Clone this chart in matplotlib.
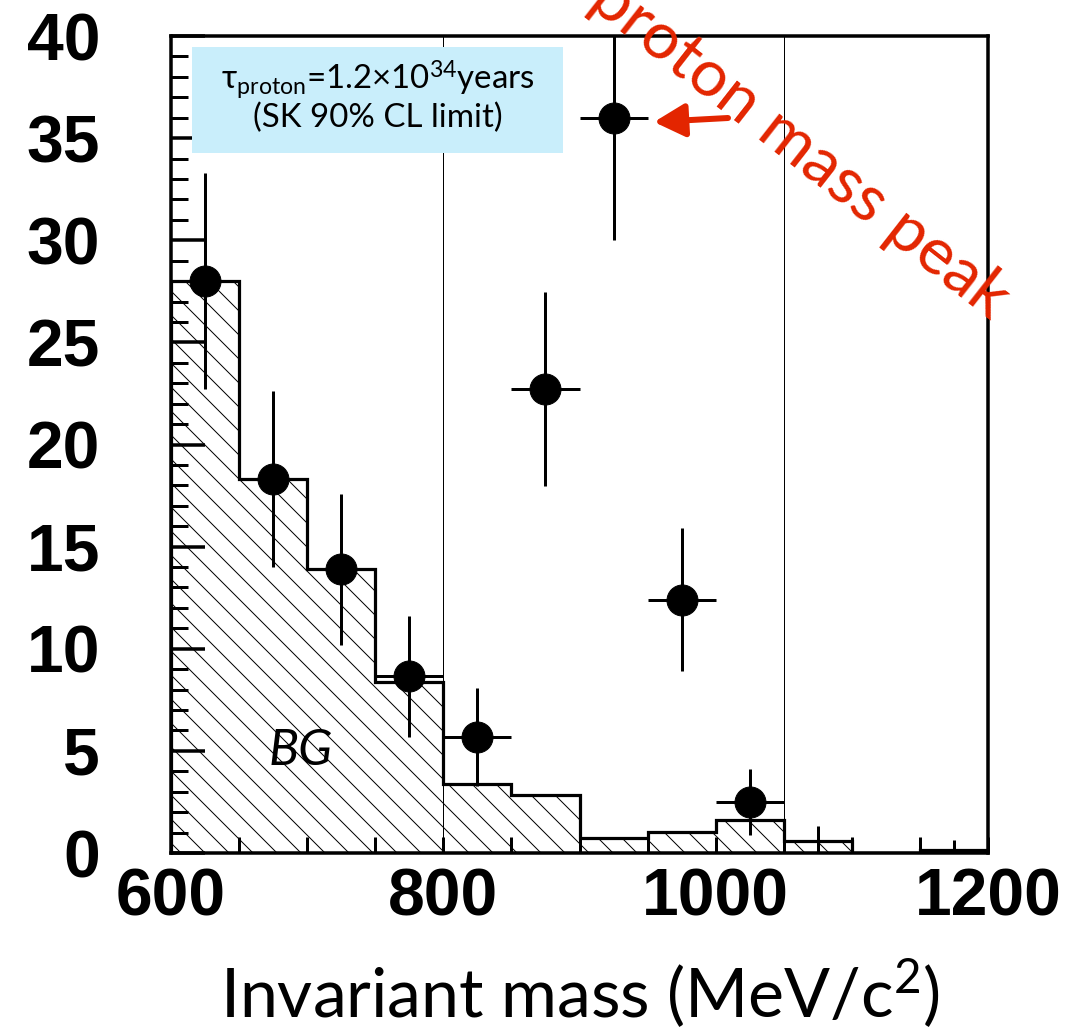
import numpy as np
import matplotlib
matplotlib.use("Agg")
import matplotlib.pyplot as plt
from matplotlib.patches import Rectangle, FancyArrowPatch

# ---- data -------------------------------------------------------------
bin_edges = [600, 650, 700, 750, 800, 850, 900, 950, 1000, 1050, 1100, 1150, 1200]
bg_counts = [28.0, 18.3, 13.9, 8.35, 3.4, 2.85, 0.72, 1.05, 1.62, 0.6, 0.0, 0.15]

data_x = [625, 675, 725, 775, 825, 875, 925, 975, 1025]
data_y = [28.0, 18.3, 13.9, 8.65, 5.7, 22.7, 36.0, 12.4, 2.5]
data_err = [5.3, 4.3, 3.7, 2.95, 2.4, 4.75, 6.0, 3.5, 1.6]
bin_half_width = 25

empty_x = [1075, 1175]
empty_upper = [1.3, 0.65]

x_ticks = [600, 800, 1000, 1200]
y_ticks = [0, 5, 10, 15, 20, 25, 30, 35, 40]
window_edges = [800, 1050]

# ---- figure -----------------------------------------------------------
DPI = 72
W, H = 1084, 1032
plt.rcParams["hatch.linewidth"] = 1.0
plt.rcParams["hatch.color"] = "black"
plt.rcParams["mathtext.fontset"] = "custom"
plt.rcParams["mathtext.rm"] = "Lato"
plt.rcParams["mathtext.it"] = "Lato:italic"

fig = plt.figure(figsize=(W / DPI, H / DPI), dpi=DPI)
ax = fig.add_axes([171 / W, 1 - 853 / H, 817 / W, 817 / H])
ax.set_xlim(600, 1200)
ax.set_ylim(0, 40)

# background histogram: hatched fill + thick outline
ax.stairs(bg_counts, bin_edges, fill=True, facecolor="none", edgecolor="black",
          hatch="\\", linewidth=0, zorder=2)
ax.stairs(bg_counts, bin_edges, baseline=0, color="black", linewidth=3.2, zorder=3)

# signal-window boundaries
for xe in window_edges:
    ax.axvline(xe, color="black", linewidth=1.0, zorder=1)

# observed points
ax.errorbar(data_x, data_y, xerr=bin_half_width, yerr=data_err, fmt="o",
            color="black", markersize=31, elinewidth=3, capsize=0, zorder=5)
ax.errorbar(empty_x, [0] * len(empty_x), yerr=[[0] * len(empty_x), empty_upper],
            fmt="none", ecolor="black", elinewidth=3, capsize=0, zorder=5)

# ticks and spines
ax.set_xticks(x_ticks)
ax.set_xticks(np.arange(600, 1201, 50), minor=True)
ax.set_yticks(y_ticks)
ax.set_yticks(np.arange(0, 41, 1), minor=True)
tick_font = {"family": "Liberation Sans", "weight": "bold", "size": 66}
ax.set_xticklabels([str(v) for v in x_ticks], fontdict=tick_font)
ax.set_yticklabels([str(v) for v in y_ticks], fontdict=tick_font)
ax.tick_params(axis="x", which="both", direction="in", length=16, width=3,
               pad=14, top=False)
ax.tick_params(axis="y", which="major", direction="in", length=34, width=3.5,
               pad=71, right=False)
ax.tick_params(axis="y", which="minor", direction="in", length=17, width=3,
               right=False)
for sp in ax.spines.values():
    sp.set_linewidth(3.5)

# BG label
ax.text(695, 5.0, "BG", fontfamily="Lato", fontstyle="italic", fontsize=50,
        ha="center", va="center", zorder=4)

# info box
ax.add_patch(Rectangle((21 / 817, (853 - 153) / 817), 371 / 817, 106 / 817,
                       transform=ax.transAxes, facecolor="#c9eefb",
                       edgecolor="none", zorder=6))
box_font = {"family": ["Lato", "DejaVu Sans"], "size": 33}
ax.text(206.5 / 817, (853 - 80) / 817,
        "τ$_{\\mathrm{proton}}$=1.2×10$^{34}$years",
        transform=ax.transAxes, ha="center", va="center", zorder=7, **box_font)
ax.text(206.5 / 817, (853 - 118) / 817, "(SK 90% CL limit)",
        transform=ax.transAxes, ha="center", va="center", zorder=7, **box_font)

# annotation
red = "#e32500"
fig.text(800 / W, 1 - 148 / H, "proton mass peak", color=red, fontfamily="Lato",
         fontsize=66, rotation=-38, rotation_mode="anchor",
         ha="center", va="center")
fig.patches.append(FancyArrowPatch((728 / W, 1 - 118 / H), (654 / W, 1 - 122 / H),
                                   transform=fig.transFigure, color=red,
                                   arrowstyle="-|>,head_length=26,head_width=14",
                                   linewidth=6, mutation_scale=1, shrinkA=0, shrinkB=0))

# x axis title
fig.text(580 / W, 1 - 1018 / H, "Invariant mass (MeV/c$^{2}$)",
         fontfamily="Lato", fontsize=68, ha="center", va="baseline")

fig.savefig("out.png", dpi=DPI)
